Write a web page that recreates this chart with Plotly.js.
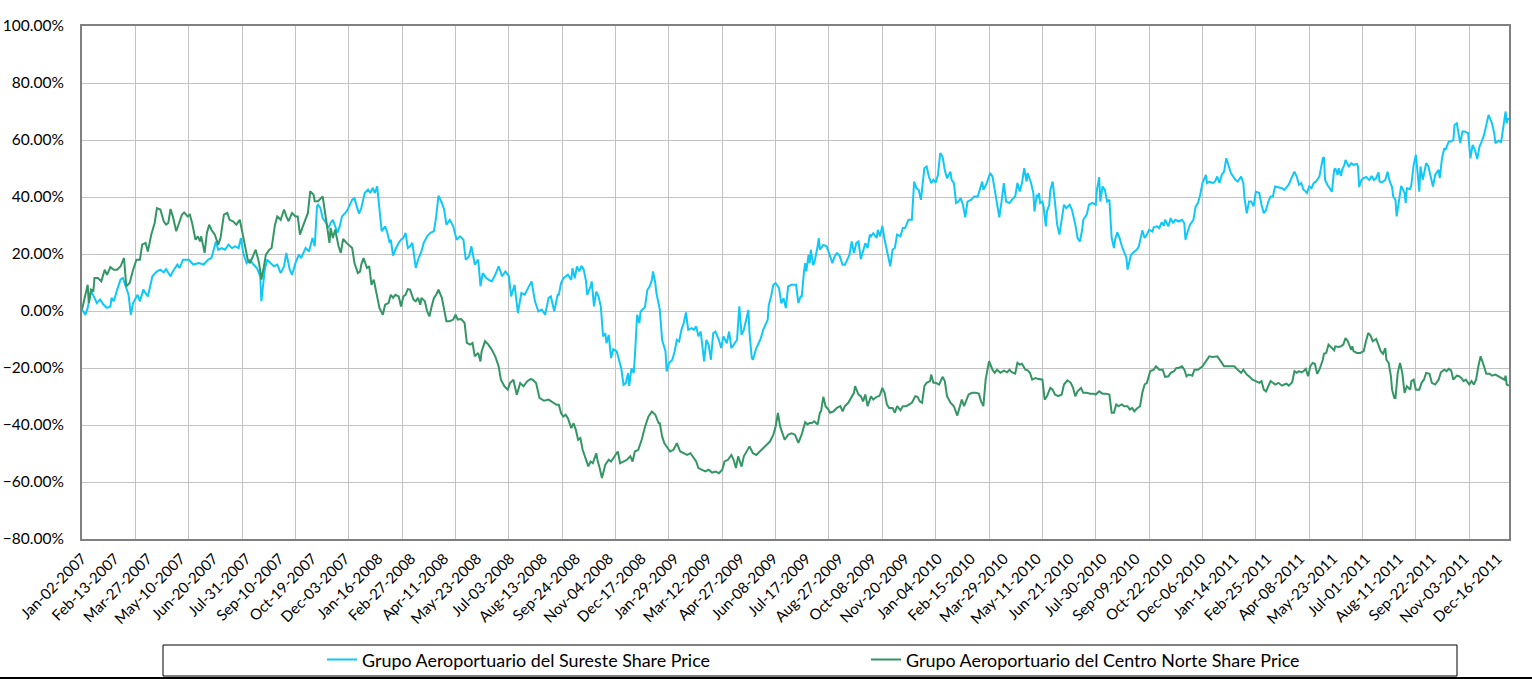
<!DOCTYPE html>
<html>
<head>
<meta charset="utf-8">
<script src="https://cdn.plot.ly/plotly-3.0.1.min.js"></script>
<style>
  html, body { margin: 0; padding: 0; background: #fff; }
  #wrap { position: relative; width: 1532px; height: 679px; overflow: hidden; }
  #chart { width: 1532px; height: 679px; }
  #edge { position: absolute; left: 0; top: 677px; width: 1532px; height: 2px; background: #000; }
</style>
</head>
<body>
<div id="wrap"><div id="chart"></div><div id="edge"></div></div>
<script>
// Trading-day number (0 = Jan-02-2007) for the axis labels
const tickDays = [0,29,58,87,116,145,174,203,232,261,290,319,348,377,406,435,464,493,522,551,580,609,638,667,696,725,754,783,812,841,870,899,928,957,986,1015,1044,1073,1102,1131,1160,1189,1218,1247];
const tickLabels = ["Jan-02-2007","Feb-13-2007","Mar-27-2007","May-10-2007","Jun-20-2007","Jul-31-2007","Sep-10-2007","Oct-19-2007","Dec-03-2007","Jan-16-2008","Feb-27-2008","Apr-11-2008","May-23-2008","Jul-03-2008","Aug-13-2008","Sep-24-2008","Nov-04-2008","Dec-17-2008","Jan-29-2009","Mar-12-2009","Apr-27-2009","Jun-08-2009","Jul-17-2009","Aug-27-2009","Oct-08-2009","Nov-20-2009","Jan-04-2010","Feb-15-2010","Mar-29-2010","May-11-2010","Jun-21-2010","Jul-30-2010","Sep-09-2010","Oct-22-2010","Dec-06-2010","Jan-14-2011","Feb-25-2011","Apr-08-2011","May-23-2011","Jul-01-2011","Aug-11-2011","Sep-22-2011","Nov-03-2011","Dec-16-2011"];
// Trading-day numbers carrying vertical gridlines
const gridDays = [0,47,94,141,188,235,282,329,376,423,470,517,564,611,658,705,752,799,846,893,940,987,1034,1081,1128,1175,1222];
const lastDay = 1257;

// Grupo Aeroportuario del Sureste: trading day and % change
const surDay = [0,3,5,8,11,13,16,19,22,25,26,28,31,34,36,39,41,43,45,49,51,54,57,58,62,66,69,72,74,78,80,84,86,89,94,98,103,107,111,114,116,118,120,123,126,129,132,135,138,140,142,145,148,151,154,157,158,161,163,166,169,172,175,178,180,183,185,188,191,193,197,200,203,205,207,
208,210,212,215,217,219,221,223,225,227,229,232,234,238,240,242,244,246,249,252,254,256,258,260,262,264,267,269,271,272,274,276,279,281,283,285,287,289,291,294,296,299,301,304,307,310,312,314,317,319,321,324,327,330,333,336,338,341,343,346,349,351,353,356,358,361,364,367,370,373,376,378,381,384,387,390,393,396,399,402,405,408,411,413,416,419,
420,422,424,426,428,431,432,434,436,438,440,442,444,445,448,449,451,453,455,457,459,461,462,464,466,468,471,473,475,477,479,481,482,484,486,487,489,491,492,495,496,498,500,502,503,505,506,509,511,514,515,517,520,522,524,526,528,530,532,534,537,539,541,543,545,548,550,552,554,556,558,561,563,565,568,570,572,574,577,579,581,583,585,587,588,590,591,594,596,598,600,602,604,605,607,609,611,614,616,618,620,622,625,629,
631,633,634,636,637,638,640,641,642,644,645,648,649,650,653,656,658,661,663,665,667,670,672,674,676,678,680,682,684,686,688,690,692,694,695,697,700,701,703,705,707,709,711,712,714,716,718,721,723,725,728,731,733,735,737,739,742,744,746,748,750,752,754,756,758,760,762,764,765,766,768,770,772,774,776,778,780,783,786,789,791,793,794,797,800,802,804,806,808,810,812,814,817,819,822,824,826,828,830,832,833,836,838,839,841,842,
843,844,846,847,849,850,852,853,855,857,859,861,863,865,867,869,870,872,874,875,877,879,881,882,885,887,890,893,894,896,897,899,901,903,905,906,907,909,910,912,914,916,918,920,921,923,924,927,929,931,932,934,936,938,940,943,944,947,949,951,953,954,957,959,961,963,966,969,971,972,974,976,979,981,983,985,987,990,991,993,996,998,1000,1002,1004,1006,1008,1010,1012,1014,1016,1018,1021,1023,1024,1026,1028,1030,1032,1034,1037,1039,1041,1043,1045,1047,1049,1051,
1054,1057,1059,1061,1063,1066,1068,1070,1072,1074,1076,1077,1079,1081,1083,1085,1087,1090,1091,1093,1094,1095,1097,1099,1101,1103,1104,1106,1107,1109,1110,1112,1113,1115,1116,1118,1120,1123,1124,1125,1127,1129,1131,1134,1136,1138,1140,1142,1143,1145,1148,1150,1152,1154,1155,1157,1158,1160,1161,1162,1165,1166,1167,1170,1171,1173,1175,1176,1178,1179,1181,1182,1184,1186,1188,1190,1192,1195,1196,1198,1200,1201,1204,1206,1208,1209,1211,1212,1214,1216,1218,1221,1223,1225,1227,1229,1231,1233,1235,1237,1239,1242,1244,1245,1248,1250,1252,1254,1255,1256,1257];
const surPct = [0.5,-1.3,1.1,6.9,4.6,2.8,4.0,2.2,1.1,1.6,4.6,3.4,7.5,11.1,11.6,8.1,5.7,-1.3,2.8,5.7,3.4,7.5,5.7,5.1,12.2,13.9,14.5,13.6,14.7,12.2,13.9,16.3,15.1,18.0,18.0,16.3,16.8,16.3,18.0,18.6,21.5,24.4,21.5,22.1,21.5,23.3,22.1,22.7,22.1,25.6,20.4,16.8,18.0,16.3,15.1,12.2,3.4,14.5,18.0,16.8,15.7,16.3,13.3,15.7,20.4,14.5,12.7,16.8,19.8,18.6,22.1,20.9,25.6,22.7,36.7,
37.3,36.1,32.6,30.9,29.1,30.9,32.0,29.7,27.4,29.7,33.2,34.4,35.6,39.1,39.6,36.7,34.2,36.1,41.4,42.6,41.4,43.2,41.4,43.7,36.7,28.0,29.7,27.4,23.9,25.0,19.4,21.5,23.9,25.0,25.6,27.4,22.1,22.7,23.9,15.1,18.0,20.9,23.9,26.2,27.4,28.0,33.2,40.5,37.9,35.6,30.3,32.0,29.7,25.0,26.2,25.0,18.0,19.2,22.7,16.3,18.0,8.7,13.3,11.6,11.0,10.4,12.7,15.7,12.2,13.9,12.2,5.1,9.2,-0.7,6.3,5.7,8.1,10.4,3.4,-0.1,0.5,-1.3,4.6,5.1,-0.1,5.7,
5.7,9.8,11.5,12.1,12.7,10.9,15.0,11.5,15.6,13.9,15.8,14.4,10.4,5.7,8.6,10.4,1.6,6.8,5.1,1.6,-8.9,-7.8,-11.3,-8.4,-16.5,-13.4,-14.2,-17.1,-20.1,-25.9,-25.3,-21.8,-26.3,-20.1,-21.8,-16.0,-1.3,-4.3,-0.2,1.0,1.6,7.4,8.6,10.9,13.9,9.8,6.3,0.4,-10.1,-14.2,-21.2,-18.3,-17.1,-14.2,-10.1,-10.7,-6.6,-4.3,-0.5,-6.6,-6.0,-6.6,-5.4,-8.9,-7.2,-17.7,-10.1,-11.9,-17.1,-7.8,-7.2,-10.1,-13.0,-8.9,-11.3,-7.2,-13.0,-11.9,-10.1,1.6,-8.4,-6.6,-2.5,0.4,-7.8,-16.5,-17.1,-13.0,-11.3,-9.5,-6.6,-4.9,-3.1,2.2,5.1,9.2,9.8,8.0,2.7,4.5,1.0,8.6,9.2,9.2,
2.8,5.1,5.1,13.9,16.8,13.9,19.7,16.8,21.5,16.2,16.8,22.7,25.6,21.5,23.2,22.7,20.3,16.8,19.2,20.3,19.7,16.2,16.2,18.0,19.7,24.4,20.3,23.8,24.4,18.2,21.5,23.8,22.1,26.8,26.2,27.3,25.6,28.5,26.2,29.9,25.0,21.5,18.6,15.7,21.5,22.1,26.8,26.2,29.1,29.1,32.0,32.0,45.4,43.1,42.5,39.0,50.1,50.7,47.2,44.9,46.0,45.1,47.8,55.4,54.2,49.5,46.6,48.4,48.9,46.0,44.9,37.9,38.4,39.6,37.3,32.9,38.4,39.0,40.2,40.2,42.5,45.4,42.5,44.9,48.4,47.2,42.5,37.9,32.9,38.4,44.9,38.4,37.9,39.0,40.2,44.9,41.9,44.9,50.1,45.4,48.4,44.9,41.4,34.9,40.8,39.6,
41.4,37.9,38.4,36.7,29.7,34.9,37.3,42.5,45.4,38.4,30.3,26.8,31.4,37.3,36.1,36.7,37.3,35.5,32.0,30.3,25.6,24.4,28.5,32.0,33.8,37.3,37.9,37.3,42.5,47.0,38.4,43.7,42.5,38.4,39.0,30.8,25.6,22.1,25.0,27.6,25.6,22.7,20.9,18.6,14.5,18.0,19.7,20.9,21.5,22.7,25.0,28.3,25.6,26.8,28.5,27.9,29.4,29.7,29.1,31.1,29.9,32.0,29.7,32.6,30.8,32.0,31.4,32.0,30.8,25.0,27.9,30.3,32.0,36.7,37.9,40.8,44.9,47.8,44.9,45.4,44.9,45.4,47.2,44.9,47.8,48.9,53.6,50.7,48.4,47.2,46.0,45.4,47.2,44.9,39.6,34.3,38.4,38.4,36.7,41.9,41.4,37.3,34.3,35.5,38.4,40.2,40.2,43.7,
43.5,43.1,42.5,43.5,44.3,47.2,48.9,47.2,44.3,44.9,42.5,42.3,41.4,43.7,43.1,44.9,45.4,47.2,49.5,53.6,54.0,46.0,44.3,43.1,41.9,49.5,50.1,47.8,50.1,47.4,49.5,51.3,53.0,51.3,50.7,51.9,51.3,51.6,50.7,43.5,46.0,46.6,47.0,46.0,47.4,46.0,46.6,48.6,45.4,45.1,46.0,48.9,45.4,43.5,40.2,39.0,33.2,38.4,40.8,43.9,41.4,37.9,43.1,42.8,44.3,51.3,54.8,50.7,41.9,50.7,46.0,47.8,51.9,50.7,47.2,43.7,47.8,49.5,46.6,53.6,57.1,56.5,59.5,59.5,60.0,65.3,65.9,63.6,58.9,63.0,63.0,62.4,53.6,58.3,56.5,53.3,57.7,59.5,61.8,65.3,68.8,65.9,62.4,58.9,59.8,59.1,64.7,70.0,65.9,67.6,67.1];

// Grupo Aeroportuario del Centro Norte: trading day and % change
const cenDay = [0,3,5,6,8,10,11,14,17,20,22,25,28,31,34,37,39,42,45,48,51,53,56,58,61,64,66,69,72,74,76,78,80,83,85,88,90,93,95,97,100,102,104,105,108,110,112,114,117,120,122,125,128,130,133,136,139,141,144,146,148,151,153,156,158,160,162,165,167,170,172,175,178,180,182,185,188,190,192,194,197,199,201,204,205,
208,212,214,216,218,219,221,223,226,228,230,233,236,238,240,243,245,246,248,251,253,255,257,260,262,265,267,270,272,274,276,279,281,283,285,287,289,292,294,296,298,299,302,304,306,308,310,312,314,317,319,321,324,327,329,331,334,337,339,342,344,346,349,351,352,355,358,361,364,367,369,372,375,377,380,383,386,389,392,395,397,400,403,407,411,415,418,
420,422,424,426,428,431,433,435,437,439,441,443,446,448,450,453,454,456,458,461,464,466,468,470,472,474,477,480,483,485,487,490,493,496,499,502,505,508,509,511,513,515,518,521,524,527,530,533,536,539,541,543,546,549,552,555,558,561,564,566,569,572,574,576,578,581,583,586,588,591,594,597,600,603,606,609,611,613,615,617,619,622,625,628,
631,634,637,639,641,643,645,648,650,651,653,655,657,659,662,665,668,670,672,675,678,680,681,684,686,688,690,692,695,697,700,702,703,705,707,709,711,714,716,718,721,723,726,728,731,734,736,738,740,742,744,747,748,750,752,755,758,760,762,765,768,771,773,775,777,779,781,784,787,790,792,794,796,799,802,804,806,809,812,815,817,819,822,824,826,828,831,833,835,837,840,842,
846,848,850,853,855,857,860,863,865,868,871,873,875,877,880,882,885,888,891,893,896,899,902,905,907,909,911,913,916,918,921,923,925,927,929,932,934,936,938,941,944,946,949,952,954,957,959,962,964,966,969,971,973,975,978,980,983,987,990,993,996,1000,1003,1006,1009,1012,1015,1018,1021,1023,1026,1028,1031,1034,1037,1039,1041,1043,1045,1047,1049,1051,
1054,1057,1059,1061,1063,1066,1068,1070,1072,1074,1076,1078,1080,1082,1084,1086,1088,1090,1093,1094,1096,1098,1101,1103,1104,1107,1109,1111,1113,1115,1118,1119,1120,1123,1126,1129,1131,1133,1135,1137,1140,1142,1144,1146,1148,1149,1151,1153,1154,1156,1157,1159,1161,1163,1165,1167,1170,1171,1173,1175,1178,1180,1182,1184,1187,1189,1192,1195,1197,1200,1202,1204,1206,1208,1211,1213,1215,1217,1219,1222,1224,1226,1228,1230,1232,1235,1237,1240,1242,1245,1248,1250,1253,1254,1255,1257];
const cenPct = [0.5,6.3,9.2,2.8,7.5,6.9,11.6,11.6,10.4,14.5,12.7,15.4,14.5,14.5,15.7,18.6,8.7,9.8,14.5,18.0,18.0,23.3,23.9,20.9,26.8,30.9,36.1,35.6,31.5,30.3,30.9,35.8,33.2,28.0,30.3,33.8,34.6,33.2,33.8,30.9,25.0,26.2,24.4,26.2,20.4,27.4,30.3,28.5,26.8,23.3,25.6,33.8,34.4,32.0,31.5,30.3,32.0,28.0,22.7,18.0,16.8,19.8,21.5,16.8,11.0,15.1,19.8,21.5,22.1,30.3,33.2,32.0,35.6,33.2,31.5,34.4,33.2,33.2,26.8,29.1,32.0,34.4,42.0,40.8,38.5,
38.5,40.2,34.4,28.5,23.9,29.1,25.6,28.5,22.7,20.4,25.3,23.9,22.7,22.1,16.8,13.3,13.9,16.3,18.6,15.1,15.7,9.2,11.0,5.7,1.1,-1.3,2.2,2.8,5.7,4.6,5.7,5.1,1.6,5.1,5.7,7.7,7.5,4.0,3.4,4.6,2.2,4.6,3.4,-0.1,-1.9,1.6,4.6,5.7,7.5,4.6,-0.1,-3.6,-3.6,-3.0,-1.3,-3.0,-2.8,-4.2,-11.2,-11.8,-11.2,-15.9,-14.7,-17.7,-14.2,-10.6,-11.8,-13.6,-15.9,-19.4,-24.1,-26.4,-27.6,-25.3,-24.1,-29.4,-25.3,-26.4,-24.7,-23.9,-24.1,-25.3,-30.5,-31.5,-31.1,-32.0,-32.9,
-32.9,-35.8,-37.0,-36.4,-37.6,-41.1,-39.4,-41.7,-45.2,-44.6,-48.7,-51.0,-54.5,-52.8,-53.4,-49.9,-52.2,-55.1,-58.6,-53.9,-52.2,-52.8,-51.6,-50.5,-49.3,-53.4,-52.8,-52.2,-51.0,-52.8,-49.3,-48.7,-45.2,-40.5,-37.0,-35.3,-36.4,-39.4,-39.4,-44.0,-46.4,-47.5,-49.3,-48.7,-46.4,-49.3,-49.9,-50.5,-49.9,-51.6,-52.8,-55.1,-55.7,-56.3,-55.7,-56.7,-56.3,-56.9,-55.7,-52.8,-52.2,-50.5,-52.2,-55.1,-51.0,-54.6,-51.0,-48.7,-47.5,-49.9,-50.5,-49.3,-48.1,-46.9,-45.8,-43.4,-40.5,-35.8,-40.5,-42.9,-45.2,-43.4,-42.9,-43.4,
-46.3,-43.3,-39.0,-39.8,-39.3,-39.3,-38.7,-39.8,-35.7,-35.2,-30.1,-33.4,-34.3,-35.7,-35.2,-34.0,-33.4,-35.2,-33.4,-32.2,-29.9,-28.7,-26.4,-29.3,-29.9,-31.7,-29.3,-33.4,-29.9,-31.1,-30.1,-29.9,-29.3,-27.0,-28.7,-32.8,-34.0,-34.0,-35.7,-33.4,-34.8,-33.4,-33.4,-32.8,-32.2,-29.9,-30.1,-31.7,-32.2,-26.4,-25.2,-24.6,-22.3,-25.2,-25.2,-25.8,-23.1,-24.6,-29.9,-32.2,-33.4,-36.7,-34.0,-31.1,-33.4,-31.1,-29.3,-28.7,-28.7,-29.0,-31.7,-33.4,-24.1,-17.6,-20.6,-21.7,-20.6,-21.7,-20.9,-21.5,-20.6,-21.5,-22.0,-18.2,-18.8,-18.5,-20.6,-20.8,-21.7,-24.1,-23.5,-23.8,
-24.1,-31.1,-29.9,-27.0,-27.6,-29.3,-29.9,-29.3,-25.8,-24.3,-25.2,-27.0,-29.9,-28.2,-27.0,-28.7,-28.7,-29.0,-29.0,-29.3,-28.2,-29.0,-29.0,-29.3,-35.7,-35.7,-32.8,-33.4,-32.8,-33.4,-33.4,-34.6,-34.0,-35.2,-34.3,-33.4,-28.7,-25.8,-25.2,-21.1,-20.6,-19.4,-20.6,-20.6,-23.1,-22.9,-21.7,-21.1,-20.0,-20.0,-19.4,-20.6,-22.9,-22.3,-22.7,-20.6,-20.6,-19.4,-17.6,-15.9,-16.1,-15.9,-17.6,-19.4,-19.4,-19.4,-19.4,-20.6,-21.7,-20.6,-22.3,-22.9,-24.1,-24.6,-25.2,-24.6,-27.6,-28.2,-26.4,-24.6,-25.2,-25.8,
-25.2,-26.2,-25.8,-25.5,-26.2,-25.0,-21.1,-21.7,-21.1,-21.5,-21.1,-20.3,-22.9,-19.4,-18.2,-18.5,-22.0,-20.6,-17.1,-15.0,-14.7,-11.8,-13.0,-13.8,-12.4,-12.6,-12.4,-11.8,-9.5,-10.6,-13.6,-12.4,-14.1,-14.7,-14.7,-14.1,-10.6,-7.7,-8.6,-10.6,-9.8,-12.4,-14.1,-15.0,-13.0,-17.1,-18.2,-22.9,-27.6,-30.5,-30.5,-21.7,-18.2,-21.7,-28.7,-26.4,-27.6,-24.6,-24.1,-27.6,-27.6,-25.2,-24.1,-21.7,-22.0,-25.2,-25.8,-24.1,-21.5,-20.6,-21.1,-20.3,-20.8,-24.1,-22.7,-22.9,-23.5,-24.6,-24.1,-25.8,-24.6,-25.8,-24.1,-19.4,-15.9,-19.4,-22.0,-22.0,-22.7,-22.3,-22.9,-23.5,-24.1,-22.7,-25.8,-26.2];

const seriesNames = ["Grupo Aeroportuario del Sureste Share Price", "Grupo Aeroportuario del Centro Norte Share Price"];

const FONT = 'Lato, "Open Sans", "DejaVu Sans", sans-serif';

const traces = [
  { x: surDay, y: surPct, name: seriesNames[0], type: 'scatter', mode: 'lines',
    line: { color: '#0fc8f7', width: 2 }, hoverinfo: 'skip' },
  { x: cenDay, y: cenPct, name: seriesNames[1], type: 'scatter', mode: 'lines',
    line: { color: '#339664', width: 2 }, hoverinfo: 'skip' }
];

const layout = {
  width: 1532, height: 679,
  margin: { l: 82, r: 23, t: 26, b: 140, pad: 0 },
  paper_bgcolor: '#fff', plot_bgcolor: '#fff',
  font: { family: FONT, size: 15, color: '#000' },
  showlegend: true,
  legend: {
    orientation: 'h', xref: 'container', yref: 'container',
    x: 322 / 1532, xanchor: 'left', y: 0.028, yanchor: 'middle',
    font: { family: FONT, size: 17.9, color: '#000' },
    entrywidth: 499, entrywidthmode: 'pixels',
    bgcolor: 'rgba(0,0,0,0)', borderwidth: 0, traceorder: 'normal'
  },
  xaxis: {
    range: [0, lastDay], type: 'linear', automargin: false,
    tickmode: 'array', tickvals: tickDays, ticktext: tickLabels,
    tickangle: -45, tickfont: { family: FONT, size: 15, color: '#000' },
    ticks: '', ticklabelstandoff: 3, showgrid: false, zeroline: false,
    showline: true, linecolor: '#808080', linewidth: 2, mirror: true,
    minor: { tickmode: 'array', tickvals: gridDays, showgrid: true, gridcolor: '#c3c3c3', gridwidth: 1, ticks: '' }
  },
  yaxis: {
    range: [-80, 100], tickmode: 'linear', tick0: -80, dtick: 20, automargin: false,
    tickformat: '.2f', ticksuffix: '%',
    tickfont: { family: FONT, size: 15.5, color: '#000' },
    ticks: '', ticklabelstandoff: 13,
    showgrid: true, gridcolor: '#c3c3c3', gridwidth: 1, zeroline: false,
    showline: true, linecolor: '#808080', linewidth: 2, mirror: true
  },
  shapes: [
    { type: 'rect', xref: 'paper', yref: 'paper',
      x0: (163 - 82) / 1427, x1: (1457 - 82) / 1427,
      y0: (539 - 676) / 513, y1: (539 - 645) / 513,
      line: { color: '#000', width: 1 }, fillcolor: 'rgba(0,0,0,0)', layer: 'above' }
  ]
};

Plotly.newPlot('chart', traces, layout, { staticPlot: true, displayModeBar: false });
</script>
</body>
</html>
